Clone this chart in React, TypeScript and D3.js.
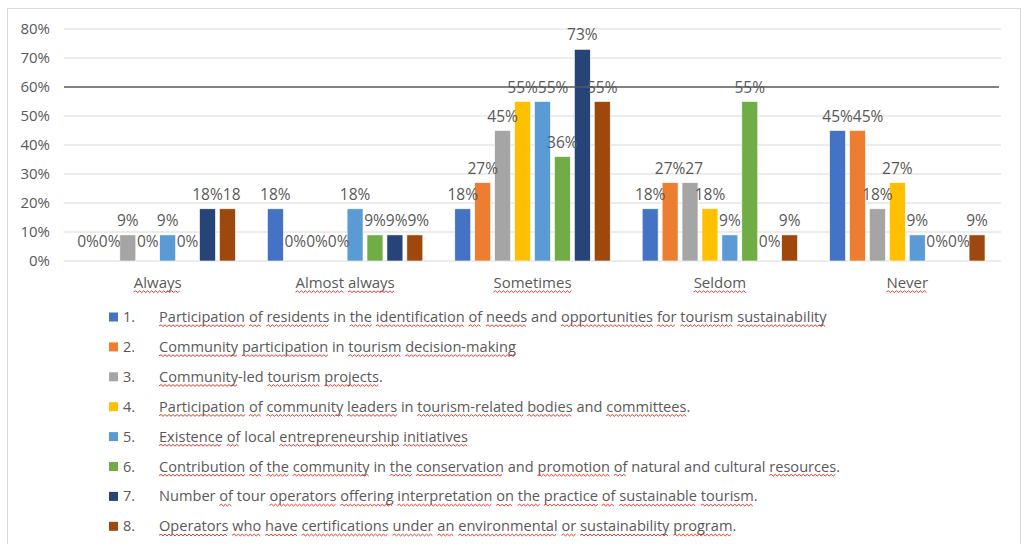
import React, { useLayoutEffect, useRef, useState } from "react";
import * as d3 from "d3";

const categories = ["Always", "Almost always", "Sometimes", "Seldom", "Never"];
const seriesNames = [
  "Participation of residents in the identification of needs and opportunities for tourism sustainability",
  "Community participation in tourism decision-making",
  "Community-led tourism projects.",
  "Participation of community leaders in tourism-related bodies and committees.",
  "Existence of local entrepreneurship initiatives",
  "Contribution of the community in the conservation and promotion of natural and cultural resources.",
  "Number of tour operators offering interpretation on the practice of sustainable tourism.",
  "Operators who have certifications under an environmental or sustainability program.",
];
const seriesColors = ["#4472C4", "#ED7D31", "#A5A5A5", "#FFC000", "#5B9BD5", "#70AD47", "#264478", "#9E480E"];

const s1 = [0, 18, 18, 18, 45];
const s2 = [0, 0, 27, 27, 45];
const s3 = [9, 0, 45, 27, 18];
const s4 = [0, 0, 55, 18, 27];
const s5 = [9, 18, 55, 9, 9];
const s6 = [0, 9, 36, 55, 0];
const s7 = [18, 9, 73, 0, 0];
const s8 = [18, 9, 55, 9, 9];
const seriesValues = [s1, s2, s3, s4, s5, s6, s7, s8];

// labels that the reference shows clipped (without the % sign): [series, category]
const clippedLabels = [
  [7, 0],
  [2, 3],
];

const yTicks = [0, 10, 20, 30, 40, 50, 60, 70, 80];

const unflagged = new Set(["in", "and", "local", "natural", "cultural", "Number", "tour", "-led", "."]);

const FONT = "'Open Sans', 'DejaVu Sans', sans-serif";
const TEXT = "#595959";
const LABEL_SIZE = 15.5;

let measureCtx: CanvasRenderingContext2D | null = null;
function textWidth(s: string, size: number) {
  if (!measureCtx) {
    const c = document.createElement("canvas");
    measureCtx = c.getContext("2d");
  }
  if (!measureCtx) return s.length * size * 0.6;
  measureCtx.font = `${size}px 'Open Sans'`;
  return measureCtx.measureText(s).width;
}

function tokenize(s: string) {
  const out: { t: string; flag: boolean }[] = [];
  const parts = s.split(/(\s+|-led|\.$)/).filter((p) => p !== "" && p !== undefined);
  for (const p of parts) {
    if (/^\s+$/.test(p)) out.push({ t: p, flag: false });
    else out.push({ t: p, flag: !unflagged.has(p) });
  }
  return out;
}

function SpellText(props: { x: number; y: number; text: string; size: number; anchor?: string }) {
  const { x, y, text, size, anchor } = props;
  const ref = useRef<SVGTextElement>(null);
  const [marks, setMarks] = useState<{ x: number; w: number }[]>([]);
  const toks = tokenize(text);
  useLayoutEffect(() => {
    const el = ref.current;
    if (!el) return;
    const spans = Array.from(el.querySelectorAll("tspan")) as SVGTSpanElement[];
    const m: { x: number; w: number }[] = [];
    spans.forEach((sp) => {
      if (sp.getAttribute("data-flag") === "1" && sp.getNumberOfChars() > 0) {
        const sx = sp.getStartPositionOfChar(0).x;
        m.push({ x: sx, w: sp.getComputedTextLength() });
      }
    });
    setMarks(m);
  }, [text, x, y, size]);
  const wave = (sx: number, w: number) => {
    const base = y + 4;
    let d = `M${sx},${base}`;
    const step = 2;
    let up = true;
    for (let px = sx + step; px <= sx + w + 0.01; px += step) {
      d += ` L${px},${base + (up ? -1.2 : 0.6)}`;
      up = !up;
    }
    return d;
  };
  return (
    <g>
      <text ref={ref} x={x} y={y} fontFamily={FONT} fontSize={size} fill={TEXT} textAnchor={anchor || "start"} style={{ whiteSpace: "pre" }}>
        {toks.map((tk, i) => (
          <tspan key={i} data-flag={tk.flag ? "1" : "0"}>{tk.t}</tspan>
        ))}
      </text>
      {marks.map((m, i) => (
        <path key={i} d={wave(m.x, m.w)} fill="none" stroke="#e23b2e" strokeWidth={1} />
      ))}
    </g>
  );
}

export default function App() {
  const left = 64, right = 1001, top = 29, bottom = 261;
  const y = d3.scaleLinear().domain([0, 80]).range([bottom, top]);
  const x0 = d3.scaleBand<string>().domain(categories).range([left, right]);
  const idx = seriesValues.map((_, i) => String(i));
  const x1 = d3.scaleBand<string>().domain(idx).range([16, x0.bandwidth() - 16]).paddingInner(0.2);
  const isClipped = (si: number, ci: number) => clippedLabels.some(([a, b]) => a === si && b === ci);
  const fmt = (v: number, si: number, ci: number) => (isClipped(si, ci) ? `${v}` : `${v}%`);

  // data labels with simple left-to-right collision avoidance (like the reference)
  const labels: { key: string; x: number; y: number; text: string }[] = [];
  categories.forEach((c, ci) => {
    const placed: { x0: number; x1: number; y: number }[] = [];
    seriesValues.forEach((vals, si) => {
      const v = vals[ci];
      const text = fmt(v, si, ci);
      const w = textWidth(text, LABEL_SIZE);
      const cx = (x0(c) as number) + (x1(String(si)) as number) + x1.bandwidth() / 2;
      const ly = v > 0 ? y(v) - 9 : y(v) - 14;
      let lx0 = cx - w / 2;
      for (const p of placed) {
        if (Math.abs(p.y - ly) < 14 && lx0 < p.x1 && lx0 + w > p.x0) lx0 = p.x1;
      }
      placed.push({ x0: lx0, x1: lx0 + w, y: ly });
      labels.push({ key: `${ci}-${si}`, x: lx0, y: ly, text });
    });
  });

  return (
    <svg width={1022} height={544} style={{ position: "absolute", left: 0, top: 0, background: "#fff" }}>
      <rect x={7.5} y={8.5} width={1013} height={545} fill="#fff" stroke="#d9d9d9" />
      {yTicks.map((t) => (
        <g key={t}>
          {t !== 60 && <line x1={left} x2={right} y1={y(t)} y2={y(t)} stroke="#d9d9d9" strokeWidth={1} />}
          <text x={50} y={y(t) + 5} textAnchor="end" fontFamily={FONT} fontSize={15} fill={TEXT}>
            {`${t}%`}
          </text>
        </g>
      ))}
      {categories.map((c, ci) => (
        <g key={c}>
          {seriesValues.map((vals, si) => {
            const bx = (x0(c) as number) + (x1(String(si)) as number);
            const v = vals[ci];
            return (
              <g key={si}>
                {v > 0 && (
                  <rect x={bx} y={y(v)} width={x1.bandwidth()} height={y(0) - y(v)} fill={seriesColors[si]} stroke="#fff" strokeWidth={0.6} />
                )}
              </g>
            );
          })}
          <SpellText x={(x0(c) as number) + x0.bandwidth() / 2} y={288} text={c} size={15} anchor="middle" />
        </g>
      ))}
      {labels.map((l) => (
        <text key={l.key} x={l.x} y={l.y} fontFamily={FONT} fontSize={LABEL_SIZE} fill={TEXT}>
          {l.text}
        </text>
      ))}
      <line x1={left} x2={999} y1={y(60)} y2={y(60)} stroke="#595959" strokeWidth={1.3} />
      {seriesNames.map((n, i) => {
        const cy = 317 + i * 29.9;
        return (
          <g key={i}>
            <rect x={109} y={cy - 4.5} width={9} height={9} fill={seriesColors[i]} />
            <text x={123} y={cy + 5} fontFamily={FONT} fontSize={14.5} fill={TEXT}>{`${i + 1}.`}</text>
            <SpellText x={159} y={cy + 5} text={n} size={14.6} />
          </g>
        );
      })}
    </svg>
  );
}
